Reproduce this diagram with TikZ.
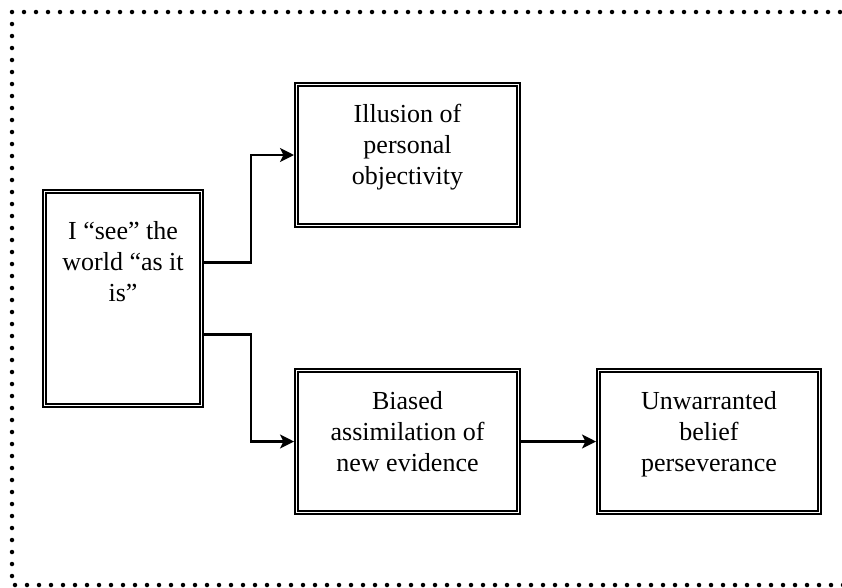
\documentclass[tikz,border=0pt]{standalone}
\usepackage{fontspec}
\setmainfont{Liberation Serif}
\usepackage{tikz}
\usetikzlibrary{arrows.meta,calc,positioning}
\tikzset{
  caja/.style={draw=black,line width=1.7pt,double=white,double distance=1.3pt,outer sep=2.35pt,inner sep=0pt},
  texto/.style={align=center,inner sep=0pt,font=\fontsize{26}{31}\selectfont},
  flecha/.style={-{Stealth[length=14pt,width=14pt,inset=3.5pt]},line width=2.4pt},
  marco/.style={line width=4.5pt,line cap=round,dash pattern=on 0pt off 12pt}
}

\begin{document}
\begin{tikzpicture}[x=1pt,y=-1pt]
\useasboundingbox (0,0) rectangle (842,587);
\clip (0,0) rectangle (842,587);
\draw[marco] (864,12)--(12,12)--(12,585)--(864,585);
% cajas
\node[caja,minimum width=157.3pt,minimum height=214.3pt] (veo) at (123,298.5){};
\node[caja,minimum width=222.3pt,minimum height=141.3pt] (ilusion) at (407.5,155){};
\node[caja,minimum width=222.3pt,minimum height=142.3pt] (sesgo) at (407.5,441.5){};
\node[caja,minimum width=221.3pt,minimum height=142.3pt] (creencia) at (709,441.5){};
% textos
\node[texto,below=32pt of veo.north] (veotxt) {I “see” the\\world “as it\\is”};
\node[texto,below=22pt of ilusion.north] (ilusiontxt) {Illusion of\\personal\\objectivity};
\node[texto,below=23pt of sesgo.north] (sesgotxt) {Biased\\assimilation of\\new evidence};
\node[texto,below=23pt of creencia.north] (creenciatxt) {Unwarranted\\belief\\perseverance};
% flechas
\draw[flecha] ([yshift=36pt]veo.east) -- ++(47,0) |- (ilusion.west);
\draw[flecha] ([yshift=-36pt]veo.east) -- ++(47,0) |- (sesgo.west);
\draw[flecha] (sesgo) -- (creencia);
\end{tikzpicture}
\end{document}
